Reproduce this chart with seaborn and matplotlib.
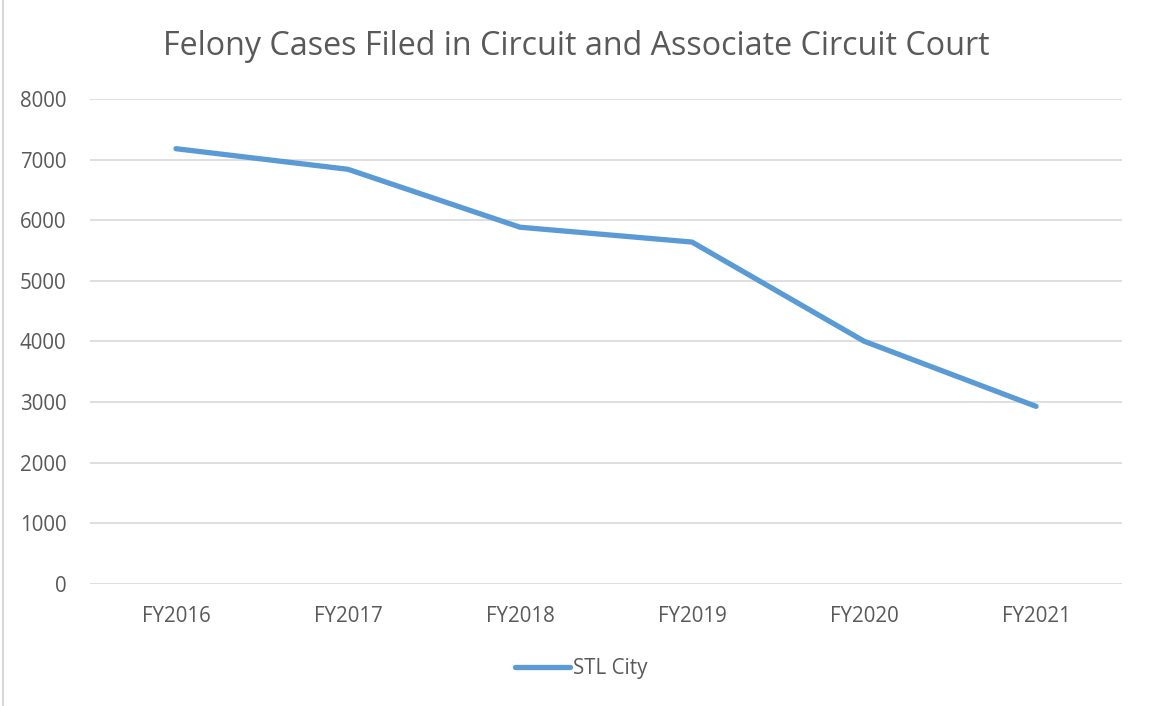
import pandas as pd
import matplotlib.pyplot as plt
import seaborn as sns

# Data
years = ['FY2016', 'FY2017', 'FY2018', 'FY2019', 'FY2020', 'FY2021']
stl_city = [7180, 6840, 5885, 5640, 4005, 2930]

df = pd.DataFrame({'year': years, 'cases': stl_city})

sns.set_style('white')
plt.rcParams['font.family'] = ['Open Sans', 'DejaVu Sans']

fig = plt.figure(figsize=(11.52, 7.06), dpi=100)
ax = fig.add_axes([0.0781, 0.1728, 0.8959, 0.687])

sns.lineplot(data=df, x='year', y='cases', ax=ax, color='#5B9BD5',
             linewidth=3.8, solid_capstyle='round', solid_joinstyle='round',
             label='STL City', sort=False)

ax.set_xlim(-0.5, 5.5)
ax.set_ylim(0, 8000)
ax.set_yticks(range(0, 8001, 1000))
ax.grid(axis='y', color='#D9D9D9', linewidth=1.2)
ax.set_axisbelow(True)
for s in ax.spines.values():
    s.set_visible(False)
ax.tick_params(axis='both', length=0, labelsize=14.8, labelcolor='#595959')
ax.tick_params(axis='y', pad=17)
ax.tick_params(axis='x', pad=16)
ax.set_xlabel('')
ax.set_ylabel('')

fig.suptitle('Felony Cases Filed in Circuit and Associate Circuit Court',
             y=0.934, va='center', fontsize=23.2, color='#595959')

ax.legend(loc='center', bbox_to_anchor=(0.476, -0.175), frameon=False,
          fontsize=14.8, labelcolor='#595959', handlelength=2.65,
          handletextpad=0.15)

# light chart border on the left
fig.add_artist(plt.Line2D([0.003, 0.003], [0, 1], color='#D9D9D9',
                          linewidth=1.5, transform=fig.transFigure))

fig.savefig('out.png', dpi=100)
